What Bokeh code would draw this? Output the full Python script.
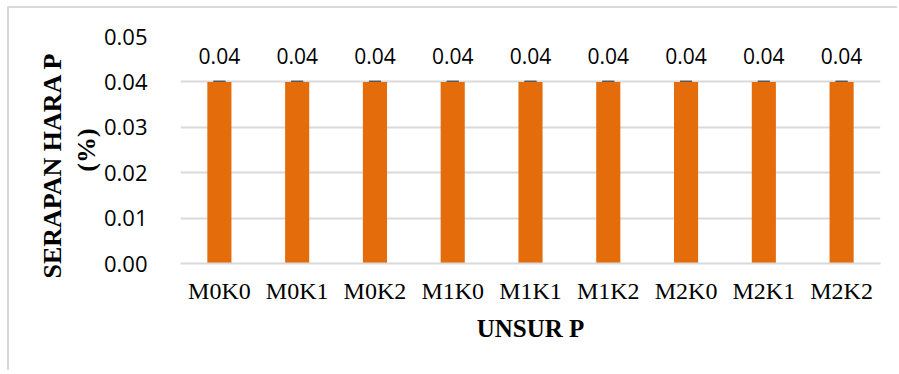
from bokeh.plotting import figure
from bokeh.models import (ColumnDataSource, FactorRange, Range1d, LabelSet, Whisker,
                          FixedTicker, PrintfTickFormatter, Title)
from bokeh.core.properties import value
from bokeh.embed import file_html
from bokeh.resources import INLINE

categories = ["M0K0", "M0K1", "M0K2", "M1K0", "M1K1", "M1K2", "M2K0", "M2K1", "M2K2"]
values = [0.04, 0.04, 0.04, 0.04, 0.04, 0.04, 0.04, 0.04, 0.04]
errors = [0.0, 0.0, 0.0, 0.0, 0.0, 0.0, 0.0, 0.0, 0.0]
y_ticks = [0.00, 0.01, 0.02, 0.03, 0.04, 0.05]
x_title = "UNSUR P"
y_title_lines = ["SERAPAN HARA P", "(%)"]

src = ColumnDataSource(dict(
    cat=categories,
    val=values,
    lo=[v - e for v, e in zip(values, errors)],
    hi=[v + e for v, e in zip(values, errors)],
    lab=["%.2f" % v for v in values],
))

W, H = 890, 364
p = figure(width=W, height=H, output_backend="svg", toolbar_location=None,
           x_range=FactorRange(*categories, range_padding=0),
           y_range=Range1d(0, 0.05),
           min_border_left=171, min_border_right=19, min_border_top=28, min_border_bottom=H - 255)
p.margin = (6, 0, 0, 7)
p.styles = {"border-top": "2px solid #d9d9d9", "border-left": "2px solid #d9d9d9"}
p.outline_line_color = None
p.background_fill_color = "white"
p.border_fill_color = "white"

p.vbar(x="cat", top="val", width=0.31, source=src, fill_color="#E46C0A", line_color=None)

w = Whisker(base="cat", lower="lo", upper="hi", source=src, line_color="#595959", line_width=2)
w.upper_head.size = 12
w.upper_head.line_color = "#595959"
w.upper_head.line_width = 2.5
w.lower_head.size = 12
w.lower_head.line_color = "#595959"
w.lower_head.line_width = 2.5
p.add_layout(w)

labels = LabelSet(x="cat", y="val", text="lab", source=src, y_offset=18,
                  text_align="center", text_baseline="alphabetic",
                  text_font=value("Open Sans"), text_font_size="21px", text_color="#000000")
p.add_layout(labels)

p.yaxis.ticker = FixedTicker(ticks=y_ticks)
p.yaxis.formatter = PrintfTickFormatter(format="%.2f")
p.yaxis.axis_line_color = None
p.yaxis.major_tick_line_color = None
p.yaxis.minor_tick_line_color = None
p.yaxis.major_label_text_font = "Open Sans"
p.yaxis.major_label_text_font_size = "22px"
p.yaxis.major_label_text_color = "#000000"
p.yaxis.major_label_standoff = 27
p.yaxis.axis_label = y_title_lines[1]
p.yaxis.axis_label_text_font = "Liberation Serif"
p.yaxis.axis_label_text_font_style = "bold"
p.yaxis.axis_label_text_font_size = "26px"
p.yaxis.axis_label_text_color = "#000000"
p.yaxis.axis_label_standoff = 0

p.xaxis.axis_line_color = "#d9d9d9"
p.xaxis.axis_line_width = 2
p.xaxis.major_tick_line_color = None
p.xaxis.minor_tick_line_color = None
p.xaxis.major_label_text_font = "Liberation Serif"
p.xaxis.major_label_text_font_size = "24px"
p.xaxis.major_label_text_color = "#000000"
p.xaxis.major_label_standoff = 8
p.xaxis.axis_label = x_title
p.xaxis.axis_label_text_font = "Liberation Serif"
p.xaxis.axis_label_text_font_style = "bold"
p.xaxis.axis_label_text_font_size = "25px"
p.xaxis.axis_label_text_color = "#000000"
p.xaxis.axis_label_standoff = 8

p.xgrid.grid_line_color = None
p.ygrid.grid_line_color = "#d9d9d9"
p.ygrid.grid_line_width = 2

# outer line of the y title
p.add_layout(Title(text=y_title_lines[0], align="left", offset=-15, standoff=4,
                   text_font="Liberation Serif", text_font_style="bold",
                   text_font_size="26px", text_color="#000000"), "left")

open("out.html", "w").write(file_html(p, INLINE))
